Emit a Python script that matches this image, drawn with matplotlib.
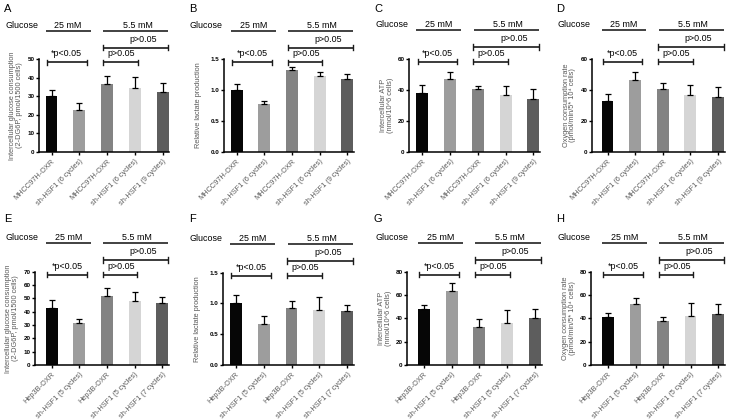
import matplotlib
matplotlib.use("Agg")
import matplotlib.pyplot as plt
import matplotlib.transforms as mtransforms

plt.rcParams['font.family'] = ['Liberation Sans', 'DejaVu Sans']

# ---------------- data ----------------
labels_top = ["MHCC97H-OXR", "sh-HSF1 (6 cycles)", "MHCC97H-OXR",
              "sh-HSF1 (6 cycles)", "sh-HSF1 (9 cycles)"]
labels_bot = ["Hep3B-OXR", "sh-HSF1 (5 cycles)", "Hep3B-OXR",
              "sh-HSF1 (5 cycles)", "sh-HSF1 (7 cycles)"]

bar_colors = ["#060606", "#9d9d9d", "#838383", "#d5d5d5", "#5d5d5d"]

A_vals = [30.0, 22.3, 36.4, 34.3, 32.2]
A_err = [3.2, 3.9, 4.6, 6.0, 4.9]
B_vals = [1.00, 0.78, 1.32, 1.23, 1.18]
B_err = [0.10, 0.04, 0.05, 0.07, 0.08]
C_vals = [37.6, 47.2, 40.2, 36.6, 34.1]
C_err = [5.4, 3.9, 2.0, 5.6, 6.1]
D_vals = [32.7, 46.2, 40.2, 36.3, 35.5]
D_err = [4.3, 5.0, 3.9, 6.7, 6.2]
E_vals = [42.5, 31.3, 52.0, 48.0, 46.3]
E_err = [6.2, 3.2, 6.0, 7.0, 4.5]
F_vals = [1.00, 0.67, 0.93, 0.89, 0.87]
F_err = [0.13, 0.12, 0.11, 0.21, 0.11]
G_vals = [47.7, 63.4, 32.3, 36.0, 40.6]
G_err = [4.0, 7.2, 6.8, 11.1, 7.1]
H_vals = [41.4, 52.0, 38.0, 42.3, 43.4]
H_err = [3.5, 5.7, 2.9, 10.6, 8.9]

ylabels = {
    "A": "Intercellular glucose consumption\n(2-DG6P, pmol/1500 cells)",
    "B": "Relative lactate production",
    "C": "Intercellular ATP\n(nmol/10^6 cells)",
    "D": "Oxygen consumption rate\n(pmol/min/5* 10\u2074 cells)",
    "E": "Intercellular glucose consumption\n(2-DG6P, pmol/1500 cells)",
    "F": "Relative lactate production",
    "G": "Intercellular ATP\n(nmol/10^6 cells)",
    "H": "Oxygen consumption rate\n(pmol/min/5* 10\u2074 cells)",
}
yticks = {
    "A": [0, 10, 20, 30, 40, 50],
    "B": [0.0, 0.5, 1.0, 1.5],
    "C": [0, 20, 40, 60],
    "D": [0, 20, 40, 60],
    "E": [0, 10, 20, 30, 40, 50, 60, 70],
    "F": [0.0, 0.5, 1.0, 1.5],
    "G": [0, 20, 40, 60, 80],
    "H": [0, 20, 40, 60, 80],
}
values = {"A": (A_vals, A_err), "B": (B_vals, B_err), "C": (C_vals, C_err),
          "D": (D_vals, D_err), "E": (E_vals, E_err), "F": (F_vals, F_err),
          "G": (G_vals, G_err), "H": (H_vals, H_err)}

glucose_groups = ["25 mM", "5.5 mM"]
p_texts = ["*p<0.05", "p>0.05", "p>0.05"]

# ---------------- layout (pixels) ----------------
W, Hh = 737, 420
# name: (panel_x0, panel_y0, axis_x, first_bar, last_bar, top_y, bottom_y)
geom = {
    "A": (0, 0, 39, 51.5, 162.7, 59.3, 151.7),
    "B": (185, 0, 224, 236.7, 347.3, 59.3, 151.7),
    "C": (370, 0, 409.3, 422.3, 533.3, 58.7, 151.7),
    "D": (552, 0, 592, 607.5, 718, 58.7, 151.7),
    "E": (0, 210, 35, 51.7, 162.3, 271.7, 365),
    "F": (185, 210, 223.3, 235.7, 347.3, 272.7, 365),
    "G": (370, 210, 407.3, 423.7, 535, 271.7, 365),
    "H": (552, 210, 591.3, 608, 718, 271.7, 365),
}

fig = plt.figure(figsize=(W / 100, Hh / 100), dpi=100)
txt_gray = "#5a5a5a"
line_col = "#1a1a1a"

for name, (x0, y0, axx, fb, lb, ty, by) in geom.items():
    s = (lb - fb) / 4.0
    xl = -(fb - axx) / s
    xr = 4 + 6.5 / s
    wpx = (xr - xl) * s
    hpx = by - ty
    ax = fig.add_axes([axx / W, 1 - by / Hh, wpx / W, hpx / Hh])
    vals, errs = values[name]
    xs = list(range(len(vals)))
    ax.bar(xs, vals, width=0.43, color=bar_colors, zorder=2)
    ax.errorbar(xs, vals, yerr=[[0] * len(errs), errs], fmt="none",
                ecolor="black", elinewidth=0.9, capsize=2.4, capthick=0.9, zorder=3)
    yt = yticks[name]
    ax.set_ylim(0, yt[-1])
    ax.set_xlim(xl, xr)
    ax.set_yticks(yt)
    if name in ("B", "F"):
        ax.set_yticklabels([f"{v:.1f}" for v in yt])
    for sp in ("top", "right"):
        ax.spines[sp].set_visible(False)
    for sp in ("left", "bottom"):
        ax.spines[sp].set_linewidth(1.1)
    ax.tick_params(axis="y", length=2.5, width=1.0, pad=0.8, labelsize=4.5)
    for t in ax.get_yticklabels():
        t.set_fontweight("bold")
    labs = labels_top if name in "ABCD" else labels_bot
    ax.set_xticks(xs)
    ax.set_xticklabels(labs, rotation=45, ha="right", rotation_mode="anchor",
                       fontsize=5.3, color=txt_gray)
    ax.tick_params(axis="x", length=2.5, width=1.0, pad=1.8)
    two = "\n" in ylabels[name]
    off = 22.5 if two else 25.5
    ax.set_ylabel(ylabels[name], fontsize=5.3, color=txt_gray, va="center",
                  linespacing=1.0)
    ax.yaxis.set_label_coords(-off / wpx, 0.5)

    trans = mtransforms.blended_transform_factory(ax.transData, ax.transAxes)

    def fy(px_above):
        return 1 + px_above / hpx

    # glucose header
    fig.text((x0 + 5) / W, 1 - (ty - 33.8) / Hh, "Glucose", fontsize=6.4,
             va="center", ha="left")
    ax.text(0.6, fy(33.8), glucose_groups[0], fontsize=6.4, ha="center",
            va="center", transform=trans)
    ax.text(3.1, fy(33.8), glucose_groups[1], fontsize=6.4, ha="center",
            va="center", transform=trans)
    for (a, b) in [(-0.21, 1.41), (1.86, 4.2)]:
        ax.plot([a, b], [fy(28.3)] * 2, color="#333333", lw=1.3,
                transform=trans, clip_on=False, solid_capstyle="butt")

    # brackets
    tk = 2.6 / hpx
    brs = [(-0.17, 1.26, -3.0, 5.3, 0.55), (1.84, 3.10, -3.0, 5.3, 2.5),
           (1.84, 4.2, 11.7, 19.8, 3.3)]
    for (a, b, ly, tyy, tx), pt in zip(brs, p_texts):
        yy = fy(ly)
        ax.plot([a, b], [yy, yy], color=line_col, lw=1.2, transform=trans,
                clip_on=False, solid_capstyle="butt")
        for xx in (a, b):
            ax.plot([xx, xx], [yy - tk, yy + tk], color=line_col, lw=1.0,
                    transform=trans, clip_on=False)
        ax.text(tx, fy(tyy), pt, fontsize=6.4, ha="center", va="center",
                transform=trans)

    fig.text((x0 + 4) / W, 1 - (y0 + 9.5) / Hh, name, fontsize=8,
             ha="left", va="center")

fig.savefig("out.png", dpi=100)
